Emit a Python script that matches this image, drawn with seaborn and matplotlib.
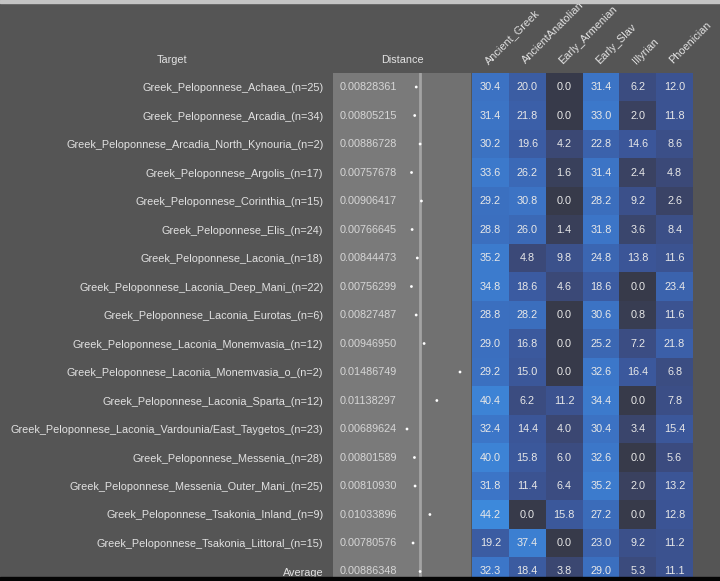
import numpy as np
import pandas as pd
import matplotlib
matplotlib.use("Agg")
import matplotlib.pyplot as plt
from matplotlib.colors import LinearSegmentedColormap
import seaborn as sns

targets = [
    "Greek_Peloponnese_Achaea_(n=25)",
    "Greek_Peloponnese_Arcadia_(n=34)",
    "Greek_Peloponnese_Arcadia_North_Kynouria_(n=2)",
    "Greek_Peloponnese_Argolis_(n=17)",
    "Greek_Peloponnese_Corinthia_(n=15)",
    "Greek_Peloponnese_Elis_(n=24)",
    "Greek_Peloponnese_Laconia_(n=18)",
    "Greek_Peloponnese_Laconia_Deep_Mani_(n=22)",
    "Greek_Peloponnese_Laconia_Eurotas_(n=6)",
    "Greek_Peloponnese_Laconia_Monemvasia_(n=12)",
    "Greek_Peloponnese_Laconia_Monemvasia_o_(n=2)",
    "Greek_Peloponnese_Laconia_Sparta_(n=12)",
    "Greek_Peloponnese_Laconia_Vardounia/East_Taygetos_(n=23)",
    "Greek_Peloponnese_Messenia_(n=28)",
    "Greek_Peloponnese_Messenia_Outer_Mani_(n=25)",
    "Greek_Peloponnese_Tsakonia_Inland_(n=9)",
    "Greek_Peloponnese_Tsakonia_Littoral_(n=15)",
    "Average",
]

distances = [0.00828361, 0.00805215, 0.00886728, 0.00757678, 0.00906417,
             0.00766645, 0.00844473, 0.00756299, 0.00827487, 0.00946950,
             0.01486749, 0.01138297, 0.00689624, 0.00801589, 0.00810930,
             0.01033896, 0.00780576, 0.00886348]

sources = ["Ancient_Greek", "AncientAnatolian", "Early_Armenian",
           "Early_Slav", "Illyrian", "Phoenician"]

ancient_greek = [30.4, 31.4, 30.2, 33.6, 29.2, 28.8, 35.2, 34.8, 28.8,
                 29.0, 29.2, 40.4, 32.4, 40.0, 31.8, 44.2, 19.2, 32.3]
ancient_anatolian = [20.0, 21.8, 19.6, 26.2, 30.8, 26.0, 4.8, 18.6, 28.2,
                     16.8, 15.0, 6.2, 14.4, 15.8, 11.4, 0.0, 37.4, 18.4]
early_armenian = [0.0, 0.0, 4.2, 1.6, 0.0, 1.4, 9.8, 4.6, 0.0,
                  0.0, 0.0, 11.2, 4.0, 6.0, 6.4, 15.8, 0.0, 3.8]
early_slav = [31.4, 33.0, 22.8, 31.4, 28.2, 31.8, 24.8, 18.6, 30.6,
              25.2, 32.6, 34.4, 30.4, 32.6, 35.2, 27.2, 23.0, 29.0]
illyrian = [6.2, 2.0, 14.6, 2.4, 9.2, 3.6, 13.8, 0.0, 0.8,
            7.2, 16.4, 0.0, 3.4, 0.0, 2.0, 0.0, 9.2, 5.3]
phoenician = [12.0, 11.8, 8.6, 4.8, 2.6, 8.4, 11.6, 23.4, 11.6,
              21.8, 6.8, 7.8, 15.4, 5.6, 13.2, 12.8, 11.2, 11.1]

df = pd.DataFrame({
    "Ancient_Greek": ancient_greek,
    "AncientAnatolian": ancient_anatolian,
    "Early_Armenian": early_armenian,
    "Early_Slav": early_slav,
    "Illyrian": illyrian,
    "Phoenician": phoenician,
}, index=targets)[sources]

BG = "#555555"
TXT = "#e2e2e2"

sns.set_theme(style="white")
plt.rcParams["font.family"] = ["Liberation Sans", "DejaVu Sans"]
plt.rcParams["font.size"] = 7.8

W, H = 720, 581
fig = plt.figure(figsize=(W / 100, H / 100), dpi=100, facecolor=BG)

# pixel geometry of the table
row_h = 28.5
top = 72.75
n = len(targets)
y0 = 1 - (top + n * row_h) / H
hgt = n * row_h / H

ax_d = fig.add_axes([333 / W, y0, 138 / W, hgt])
ax_h = fig.add_axes([472 / W, y0, 221 / W, hgt])

# ---- distance column ----
xmin, xmax = -0.004232, 0.01652
mean_d = distances[-1]
ax_d.set_facecolor("#717171")
ax_d.axvspan(xmin, mean_d, color="#7a7a7a", lw=0, zorder=0)
ax_d.axvline(mean_d, color="#a3a3a3", lw=2, zorder=1)
rows = np.arange(n)
sns.scatterplot(x=distances, y=rows, ax=ax_d, color="white", s=4,
                edgecolor="none", zorder=3, legend=False)
for i, d in enumerate(distances):
    ax_d.text(0.045, i, f"{d:.8f}", transform=ax_d.get_yaxis_transform(),
              ha="left", va="center", color="#d6d6d6", fontsize=7.8)
ax_d.set_xlim(xmin, xmax)
ax_d.set_ylim(n - 0.5, -0.5)
ax_d.set_xticks([])
ax_d.set_yticks(rows)
ax_d.set_yticklabels(targets, color=TXT, fontsize=7.8)
ax_d.tick_params(axis="y", length=0, pad=7)
ax_d.set_xlabel("")
ax_d.set_ylabel("")
for s in ax_d.spines.values():
    s.set_visible(False)

# ---- heatmap ----
cmap = LinearSegmentedColormap.from_list("adm", [
    (0.00, "#373a4a"),
    (0.05, "#3a4262"),
    (0.12, "#3b4b7e"),
    (0.30, "#3b5596"),
    (0.48, "#3b5ea6"),
    (0.62, "#3b6cbb"),
    (0.75, "#3c78ca"),
    (1.00, "#3d89db"),
])
sns.heatmap(df, ax=ax_h, cmap=cmap, vmin=0, vmax=44.2, cbar=False,
            annot=True, fmt=".1f", linewidths=0,
            annot_kws={"color": "#e8e8e8", "fontsize": 7.8})
ax_h.set_yticks([])
ax_h.set_ylabel("")
ax_h.xaxis.tick_top()
ax_h.set_xticklabels(sources, rotation=45, ha="left", rotation_mode="anchor",
                     color=TXT, fontsize=7.8)
ax_h.tick_params(axis="x", length=0, pad=5)
ax_h.set_ylim(n, 0)

# headers
fig.text(172 / W, 1 - 60 / H, "Target", ha="center", va="center",
         color=TXT, fontsize=7.8)
fig.text(402 / W, 1 - 60 / H, "Distance", ha="center", va="center",
         color=TXT, fontsize=7.8)

# screenshot edges
fig.patches.append(plt.Rectangle((0, 1 - 3 / H), 1, 3 / H, color="#c4c4c4",
                                 transform=fig.transFigure, zorder=10))
fig.patches.append(plt.Rectangle((0, 0), 1, 4 / H, color="#050505",
                                 transform=fig.transFigure, zorder=10))

fig.savefig("out.png", dpi=100, facecolor=BG)
